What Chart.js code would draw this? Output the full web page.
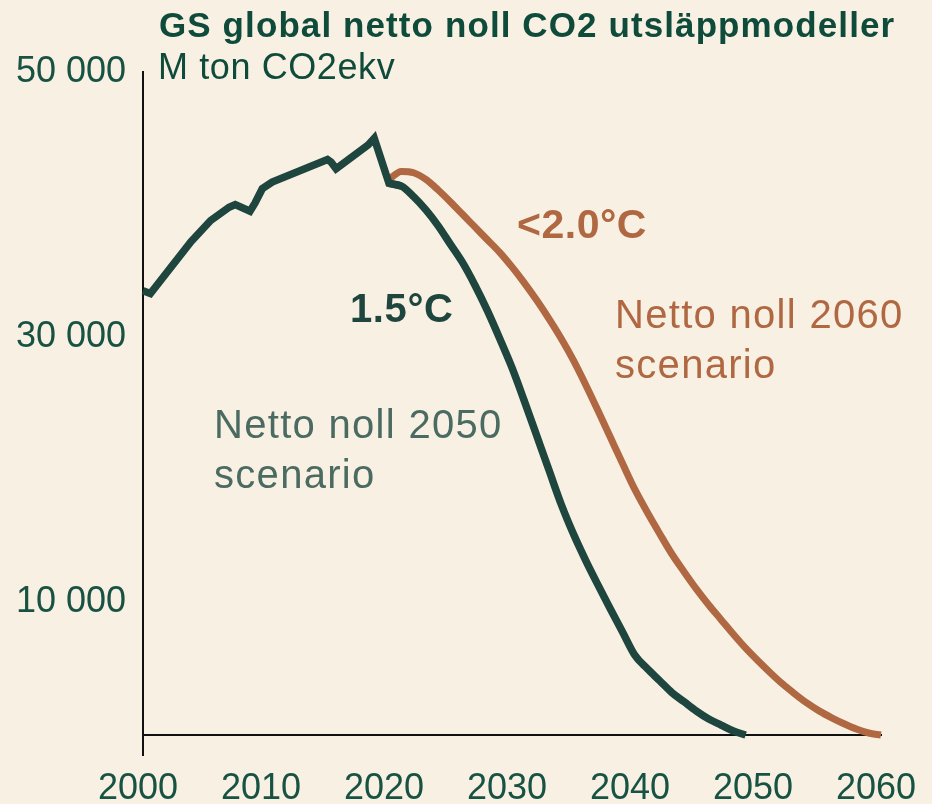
<!DOCTYPE html>
<html>
<head>
<meta charset="utf-8">
<script src="https://cdn.jsdelivr.net/npm/chart.js@4.4.1/dist/chart.umd.min.js"></script>
<style>
  html, body { margin: 0; padding: 0; background: #f8f0e3; }
  canvas { display: block; }
</style>
</head>
<body>
<canvas id="c" width="932" height="804"></canvas>
<script>
// ---- Data (M ton CO2ekv) ----
const histYears  = [2000, 2000.6, 2003.9, 2005.5, 2007.0, 2007.5, 2008.7, 2009.1, 2009.7, 2010.5, 2015.0, 2015.3, 2015.7, 2018.3, 2018.8, 2020];
const histValues = [33500, 33300, 37200, 38800, 39800, 40000, 39500, 40100, 41200, 41700, 43400, 43200, 42700, 44500, 45000, 41600];

const path15Years  = [2020, 2021, 2022, 2023, 2024, 2025, 2026, 2027, 2028, 2029, 2030,
                      2031, 2032, 2033, 2034, 2035, 2036, 2037, 2038, 2039, 2040,
                      2041, 2042, 2043, 2044, 2045, 2046, 2047, 2048, 2049];
const path15Values = [41600, 41400, 40600, 39600, 38400, 37000, 35600, 33900, 32000, 29900, 27700,
                      25200, 22600, 20000, 17400, 15150, 13150, 11300, 9500, 7750, 6000,
                      5000, 4100, 3200, 2500, 1800, 1200, 750, 300, 0];

const path20Years  = [2020, 2021, 2022, 2023, 2024, 2025, 2026, 2027, 2028, 2029, 2030,
                      2031, 2032, 2033, 2034, 2035, 2036, 2037, 2038, 2039, 2040,
                      2041, 2042, 2043, 2044, 2045, 2046, 2047, 2048, 2049, 2050,
                      2051, 2052, 2053, 2054, 2055, 2056, 2057, 2058, 2059, 2060];
const path20Values = [41900, 42500, 42400, 41900, 41100, 40200, 39250, 38300, 37350, 36400, 35300,
                      34100, 32800, 31400, 29900, 28250, 26400, 24450, 22450, 20450, 18500,
                      16800, 15200, 13650, 12300, 11000, 9800, 8700, 7600, 6550, 5600,
                      4700, 3850, 3100, 2400, 1800, 1300, 850, 450, 150, 0];

const xTickValues = [2000, 2010, 2020, 2030, 2040, 2050, 2060];
const yTickValues = [10000, 30000, 50000];

const titleText = 'GS global netto noll CO2 utsläppmodeller';
const unitText = 'M ton CO2ekv';
const label15 = '1.5°C';
const label20 = '<2.0°C';
const scen2050 = ['Netto noll 2050', 'scenario'];
const scen2060 = ['Netto noll 2060', 'scenario'];

// ---- Styles ----
const FONT = '"Liberation Sans", Arial, Helvetica, sans-serif';
const DARK = '#1e453e';
const ORANGE = '#b06842';
const TITLE = '#0f4b3b';
const TICK = '#175243';
const GREY = '#4b6b62';
const AXIS = '#111111';

const histPoints = histYears.map((x, i) => ({ x, y: histValues[i] }));
// the historical polyline also covers the first future step so the 2020 corner is mitred
histPoints.push({ x: path15Years[1], y: path15Values[1] });
const path15Points = path15Years.map((x, i) => ({ x, y: path15Values[i] }));
const path20Points = path20Years.map((x, i) => ({ x, y: path20Values[i] }));

function fmtThousands(v) {
  return String(v).replace(/\B(?=(\d{3})+(?!\d))/g, ' ');
}

const textItems = [
  { text: titleText, x: 159, y: 37, size: 35, weight: 'bold', color: TITLE, ls: 1.1 },
  { text: unitText, x: 158, y: 79, size: 36, weight: 'normal', color: TITLE, ls: 0.6 },
  { text: label15, x: 350, y: 322, size: 40, weight: 'bold', color: DARK, ls: 0.6 },
  { text: label20, x: 517, y: 238, size: 41, weight: 'bold', color: ORANGE, ls: 0.5 },
  { text: scen2050[0], x: 214, y: 438, size: 40, weight: 'normal', color: GREY, ls: 1.3 },
  { text: scen2050[1], x: 214, y: 488, size: 40, weight: 'normal', color: GREY, ls: 1.3 },
  { text: scen2060[0], x: 615, y: 328, size: 40, weight: 'normal', color: ORANGE, ls: 1.3 },
  { text: scen2060[1], x: 615, y: 378, size: 40, weight: 'normal', color: ORANGE, ls: 1.3 }
];

const textPlugin = {
  id: 'texts',
  afterDraw(chart) {
    const ctx = chart.ctx;
    ctx.save();
    ctx.textAlign = 'left';
    ctx.textBaseline = 'alphabetic';
    textItems.forEach(t => {
      ctx.font = `${t.weight} ${t.size}px ${FONT}`;
      ctx.fillStyle = t.color;
      if ('letterSpacing' in ctx) ctx.letterSpacing = t.ls + 'px';
      ctx.fillText(t.text, t.x, t.y);
    });
    if ('letterSpacing' in ctx) ctx.letterSpacing = '0px';
    ctx.restore();
  }
};

new Chart(document.getElementById('c').getContext('2d'), {
  type: 'line',
  data: {
    datasets: [
      {
        label: 'Historik',
        data: histPoints,
        borderColor: DARK,
        borderWidth: 7.5,
        pointRadius: 0,
        tension: 0,
        borderJoinStyle: 'miter',
        fill: false,
        clip: false
      },
      {
        label: label15,
        data: path15Points,
        borderColor: DARK,
        borderWidth: 7.5,
        pointRadius: 0,
        cubicInterpolationMode: 'monotone',
        fill: false,
        clip: false
      },
      {
        label: label20,
        data: path20Points,
        borderColor: ORANGE,
        borderWidth: 7,
        pointRadius: 0,
        cubicInterpolationMode: 'monotone',
        fill: false,
        clip: false
      }
    ]
  },
  options: {
    responsive: false,
    animation: false,
    devicePixelRatio: 1,
    layout: { padding: { top: 72, right: 43, left: 0, bottom: 0 } },
    plugins: { legend: { display: false }, tooltip: { enabled: false }, title: { display: false } },
    scales: {
      x: {
        type: 'linear',
        min: 2000,
        max: 2060,
        afterBuildTicks: s => { s.ticks = xTickValues.map(v => ({ value: v })); },
        afterFit: s => { s.height = 69; },
        grid: {
          drawOnChartArea: false,
          drawTicks: true,
          tickLength: 21,
          lineWidth: 2,
          color: c => (c.tick && c.tick.value === xTickValues[0]) ? AXIS : 'rgba(0,0,0,0)'
        },
        border: { display: true, color: AXIS, width: 2 },
        ticks: {
          autoSkip: false,
          maxRotation: 0,
          padding: 11,
          labelOffset: -5,
          color: TICK,
          font: { family: FONT, size: 36 },
          callback: v => String(v)
        }
      },
      y: {
        min: 0,
        max: 50000,
        afterBuildTicks: s => { s.ticks = yTickValues.map(v => ({ value: v })); },
        afterFit: s => { s.width = 143; },
        grid: { display: false, drawTicks: false },
        border: { display: true, color: AXIS, width: 2 },
        ticks: {
          padding: 17,
          color: TICK,
          font: { family: FONT, size: 36 },
          callback: v => fmtThousands(v)
        }
      }
    }
  },
  plugins: [textPlugin]
});
</script>
</body>
</html>
